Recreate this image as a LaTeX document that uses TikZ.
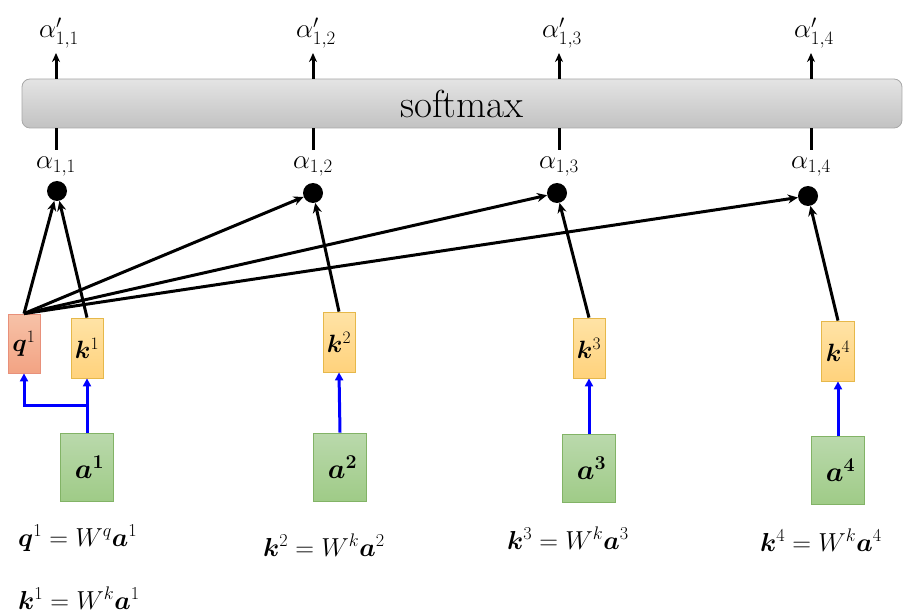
\RequirePackage{fix-cm}
\documentclass[tikz,border=0pt]{standalone}
\usepackage{amsmath,bm}
\usetikzlibrary{arrows.meta}
\definecolor{qtop}{HTML}{F7C2A8}
\definecolor{qbot}{HTML}{F2A383}
\definecolor{qbd}{HTML}{E8907A}
\definecolor{ktop}{HTML}{FFE3A6}
\definecolor{kbot}{HTML}{FFD27C}
\definecolor{kbd}{HTML}{E6B84A}
\definecolor{atop}{HTML}{BAD9AC}
\definecolor{abot}{HTML}{9FCB87}
\definecolor{abd}{HTML}{82B366}
\definecolor{smtop}{HTML}{E4E4E4}
\definecolor{smbot}{HTML}{C2C2C2}
\definecolor{smbd}{HTML}{A8A8A8}
\begin{document}
\begin{tikzpicture}[x=1pt,y=-1pt,
  qbox/.style={draw=qbd,line width=0.8pt,top color=qtop,bottom color=qbot,minimum width=32pt,minimum height=59pt,inner sep=0pt,font=\fontsize{25}{30}\selectfont},
  kbox/.style={draw=kbd,line width=0.8pt,top color=ktop,bottom color=kbot,minimum width=32pt,minimum height=60pt,inner sep=0pt,font=\fontsize{25}{30}\selectfont},
  abox/.style={draw=abd,line width=0.8pt,top color=atop,bottom color=abot,minimum width=53pt,minimum height=68pt,inner sep=0pt,font=\fontsize{28}{32}\selectfont},
  dot/.style={circle,fill=black,minimum size=20pt,inner sep=0pt},
  lbl/.style={inner sep=0pt,font=\fontsize{27}{32}\selectfont},
  eq/.style={inner sep=0pt,anchor=west,font=\fontsize{26}{30}\selectfont},
  blk/.style={line width=3pt,-{Stealth[length=10pt,width=9pt]}},
  blu/.style={draw=blue,line width=3pt,-{Triangle[length=8pt,width=8pt]},blue},
  smline/.style={line width=3pt}
]
\useasboundingbox (0,0) rectangle (903,615);

% softmax bar
\node[draw=smbd,line width=0.8pt,rounded corners=8pt,top color=smtop,bottom color=smbot,
  minimum width=880pt,minimum height=49pt,inner sep=0pt,font=\fontsize{39}{44}\selectfont] (sm) at (462,103.5) {softmax};

% column coordinates
\coordinate (c1) at (56,0);
\coordinate (c2) at (313,0);
\coordinate (c3) at (559,0);
\coordinate (c4) at (811,0);

% output labels
\node[lbl] (o1) at (59,33) {$\alpha'_{1,1}$};
\node[lbl] (o2) at (316,33) {$\alpha'_{1,2}$};
\node[lbl] (o3) at (562,33) {$\alpha'_{1,3}$};
\node[lbl] (o4) at (814,33) {$\alpha'_{1,4}$};

% alpha labels
\node[lbl] (l1) at (56,167) {$\alpha_{1,1}$};
\node[lbl] (l2) at (313,167) {$\alpha_{1,2}$};
\node[lbl] (l3) at (559,167) {$\alpha_{1,3}$};
\node[lbl] (l4) at (811,167) {$\alpha_{1,4}$};

% arrows out of softmax
\foreach \i in {1,2,3,4}{
  \coordinate (t\i) at (c\i |- 0,53);
  \coordinate (b\i) at (c\i |- 0,150);
  \draw[blk,-{Stealth[length=9pt,width=8pt]}] (c\i |- sm.north) -- (t\i);
  \draw[smline] (c\i |- sm.south) -- (b\i);
}

% dots
\node[dot] (d1) at (57,191) {};
\node[dot] (d2) at (313,193) {};
\node[dot] (d3) at (557,193) {};
\node[dot] (d4) at (808,196) {};

% q / k boxes
\node[qbox] (q1) at (24,343.5) {$\bm{q}^1$};
\node[kbox] (k1) at (87,348) {$\bm{k}^1$};
\node[kbox] (k2) at (339,342) {$\bm{k}^2$};
\node[kbox] (k3) at (589,348) {$\bm{k}^3$};
\node[kbox,minimum width=33pt] (k4) at (838,351) {$\bm{k}^4$};

% a boxes
\node[abox] (a1) at (87,467) {\hspace*{5pt}$\bm{a^1}$};
\node[abox] (a2) at (340,467) {\hspace*{5pt}$\bm{a^2}$};
\node[abox] (a3) at (589,468.5) {\hspace*{5pt}$\bm{a^3}$};
\node[abox] (a4) at (838,470.5) {\hspace*{5pt}$\bm{a^4}$};

% blue arrows
\coordinate (br) at (a1.north |- 0,405);
\draw[blu] (a1.north) -- (k1.south);
\draw[blu] (br) -| (q1.south);
\draw[blu] (a2.north) -- (k2.south);
\draw[blu] (a3.north) -- (k3.south);
\draw[blu] (a4.north) -- (k4.south);

% black arrows
\draw[blk] (q1.north) -- (d1);
\draw[blk] (k1.north) -- (d1);
\draw[blk] (q1.north) -- (d2);
\draw[blk] (q1.north) -- (d3);
\draw[blk] (q1.north) -- (d4);
\draw[blk] (k2.north) -- (d2);
\draw[blk] (k3.north) -- (d3);
\draw[blk] (k4.north) -- (d4);

% formulas
\node[eq] (e1) at (18,538) {$\bm{q}^1 = W^q\bm{a}^1$};
\node[eq] (e5) at (18,598) {$\bm{k}^1 = W^k\bm{a}^1$};
\node[eq] (e2) at (263,545) {$\bm{k}^2 = W^k\bm{a}^2$};
\node[eq] (e3) at (507,538) {$\bm{k}^3 = W^k\bm{a}^3$};
\node[eq] (e4) at (760,540) {$\bm{k}^4 = W^k\bm{a}^4$};
\end{tikzpicture}
\end{document}
